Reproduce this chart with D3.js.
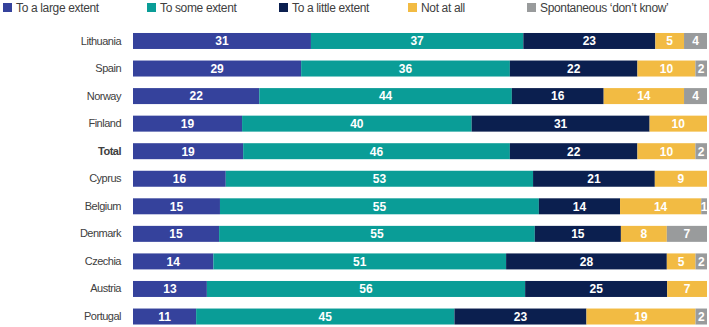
<!DOCTYPE html>
<html>
<head>
<meta charset="utf-8">
<script src="https://cdn.jsdelivr.net/npm/d3@7"></script>
<style>
    body { margin: 0; background: #fff; }
    svg { display: block; font-family: "Liberation Sans", Arial, sans-serif; }
</style>
</head>
<body>
<script>
(function() {
    'use strict';

    let countries = ["Lithuania", "Spain", "Norway", "Finland", "Total", "Cyprus",
                     "Belgium", "Denmark", "Czechia", "Austria", "Portugal"];
    let series = ["To a large extent", "To some extent", "To a little extent",
                  "Not at all", "Spontaneous \u2018don\u2019t know\u2019"];
    let largeExtent  = [31, 29, 22, 19, 19, 16, 15, 15, 14, 13, 11];
    let someExtent   = [37, 36, 44, 40, 46, 53, 55, 55, 51, 56, 45];
    let littleExtent = [23, 22, 16, 31, 22, 21, 14, 15, 28, 25, 23];
    let notAtAll     = [5, 10, 14, 10, 10, 9, 14, 8, 5, 7, 19];
    let dontKnow     = [4, 2, 4, 0, 2, 0, 1, 7, 2, 0, 2];

    let colors = ["#35429c", "#0a9d97", "#0b1f4f", "#f2bb43", "#999b9c"];

    let width = 709;
    let height = 327;

    let svg = d3.select("body").append("svg")
        .attr("width", width)
        .attr("height", height);

    // rows as normalised stacks
    let rows = countries.map(function(c, i) {
        let vals = [largeExtent[i], someExtent[i], littleExtent[i], notAtAll[i], dontKnow[i]];
        let total = d3.sum(vals);
        let row = { country: c };
        series.forEach(function(s, j) { row[s] = vals[j] / total; row["raw" + j] = vals[j]; });
        return row;
    });

    let stack = d3.stack().keys(series);
    let layers = stack(rows);

    let x = d3.scaleLinear().domain([0, 1]).range([133, 707]);
    let y = d3.scaleBand().domain(countries).range([27.2, 330.3]).paddingInner(0.42).paddingOuter(0.21);

    let g = svg.append("g");
    layers.forEach(function(layer, j) {
        let lg = g.append("g").attr("fill", colors[j]);
        lg.selectAll("rect")
            .data(layer)
            .enter()
            .append("rect")
            .attr("x", function(d) { return x(d[0]); })
            .attr("y", function(d) { return y(d.data.country); })
            .attr("width", function(d) { return x(d[1]) - x(d[0]); })
            .attr("height", y.bandwidth());

        lg.selectAll("text")
            .data(layer.filter(function(d) { return d.data["raw" + j] > 0; }))
            .enter()
            .append("text")
            .attr("x", function(d) { return (x(d[0]) + x(d[1])) / 2; })
            .attr("y", function(d) { return y(d.data.country) + y.bandwidth() / 2; })
            .attr("dy", "0.36em")
            .attr("text-anchor", "middle")
            .attr("fill", "#fff")
            .attr("font-weight", "bold")
            .attr("font-size", "12px")
            .text(function(d) { return d.data["raw" + j]; });
    });

    // category labels
    let yAxis = d3.axisLeft(y).tickSize(0).tickPadding(0);
    let ax = svg.append("g")
        .attr("transform", "translate(121,0)")
        .call(yAxis);
    ax.select(".domain").remove();
    ax.selectAll("text")
        .attr("font-size", "11px")
        .attr("letter-spacing", "-0.5px")
        .attr("font-family", "'Liberation Sans', Arial, sans-serif")
        .attr("fill", "#404040")
        .attr("font-weight", function(d) { return d === "Total" ? "bold" : "normal"; });

    // legend
    let legendX = [3, 147, 279, 408, 527];
    let legend = svg.append("g").selectAll("g")
        .data(series)
        .enter()
        .append("g")
        .attr("transform", function(d, i) { return "translate(" + legendX[i] + ",3)"; });
    legend.append("rect")
        .attr("width", 9)
        .attr("height", 9)
        .attr("fill", function(d, i) { return colors[i]; });
    legend.append("text")
        .attr("x", 13)
        .attr("y", 4.5)
        .attr("dy", "0.36em")
        .attr("font-size", "12px")
        .attr("letter-spacing", "-0.35px")
        .attr("fill", "#404040")
        .text(function(d) { return d; });
})();
</script>
</body>
</html>
